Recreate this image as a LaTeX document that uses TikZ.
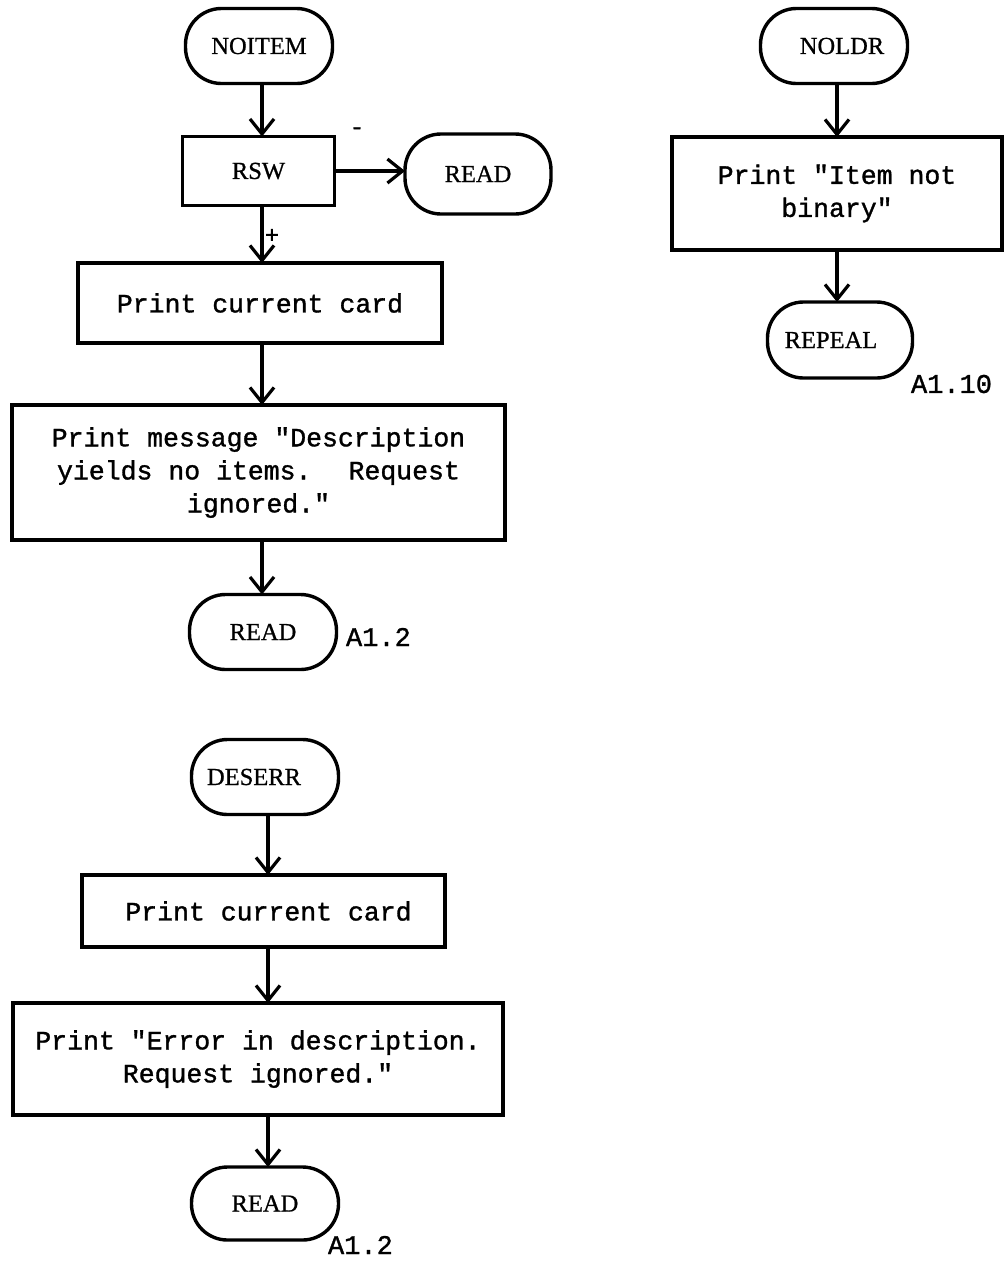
\documentclass[tikz,border=0pt]{standalone}
\usepackage{fontspec}
\setmainfont{Liberation Serif}
\setmonofont{Liberation Mono}
\newfontfamily\typer{Liberation Mono}[FakeBold=1.2]
\newfontfamily\caps{Liberation Serif}[FakeBold=0.8]
\usetikzlibrary{arrows.meta}
\begin{document}
\begin{tikzpicture}[x=1pt,y=-1pt,
  every node/.style={inner sep=0pt, outer sep=0pt},
  term/.style={draw, line width=3.4pt, rounded corners=36pt,
    minimum width=147pt, minimum height=75pt,
    font=\caps\fontsize{24.5}{30}\selectfont},
  proc/.style={draw, line width=3.2pt, align=center,
    font=\typer\fontsize{26.5}{33}\selectfont},
  flow/.style={line width=3.2pt,
    -{Straight Barb[length=15pt,width=24pt,line width=3.2pt]}},
  tag/.style={font=\typer\fontsize{27}{30}\selectfont},
  sign/.style={font=\typer\fontsize{24}{28}\selectfont}
]
\useasboundingbox[fill=white] (0,0) rectangle (1005,1262);

% column lines for the vertical connectors
\coordinate (colA) at (262,0);
\coordinate (colB) at (268,0);
\coordinate (colC) at (837,0);

% ---- NOITEM routine ----
\node[term] (noitem) at (259,46) {NOITEM};
\node[proc, minimum width=152pt, minimum height=69pt,
      font=\caps\fontsize{24.5}{30}\selectfont] (rsw) at (258.5,171) {RSW};
\node[term, minimum height=80pt, minimum width=146pt] (read1) at (478,174) {READ};
\node[proc, minimum width=364pt, minimum height=80pt] (card1) at (260,303)
  {Print current card};
\node[proc, minimum width=493pt, minimum height=135pt] (msg1) at (258.5,472.5)
  {Print message "Description\\yields no items.~ Request\\ignored."};
\node[term] (read2) at (263,632) {READ};
\node[tag, anchor=west] (ref1) at (346,637) {A1.2};

\node[sign] (minus) at (357,131) {-};
\node[sign] (plus) at (272,236) {+};

\draw[flow] (noitem.south -| colA) -- (rsw.north -| colA);
\draw[flow] (rsw.east) -- (rsw.east -| read1.west);
\draw[flow] (rsw.south -| colA) -- (card1.north -| colA);
\draw[flow] (card1.south -| colA) -- (msg1.north -| colA);
\draw[flow] (msg1.south -| colA) -- (read2.north -| colA);

% ---- NOLDR routine ----
\node[term] (noldr) at (834,46) {\hspace*{16pt}NOLDR};
\node[proc, minimum width=330pt, minimum height=113pt] (msg2) at (837,193.5)
  {Print "Item not\\binary"};
\node[term, minimum height=76pt, minimum width=145pt] (repeal) at (840,340)
  {\hspace*{-18pt}REPEAL};
\node[tag, anchor=west] (ref2) at (911,384) {A1.10};

\draw[flow] (noldr.south -| colC) -- (msg2.north -| colC);
\draw[flow] (msg2.south -| colC) -- (repeal.north -| colC);

% ---- DESERR routine ----
\node[term] (deserr) at (265,777) {\hspace*{-22pt}DESERR};
\node[proc, minimum width=363pt, minimum height=72pt] (card2) at (263.5,911)
  {\hspace*{10pt}Print current card};
\node[proc, minimum width=490pt, minimum height=112pt] (msg3) at (258,1059)
  {Print "Error in description.\\Request ignored."};
\node[term, minimum height=73pt] (read3) at (265,1203.5) {READ};
\node[tag, anchor=west] (ref3) at (328,1245) {A1.2};

\draw[flow] (deserr.south -| colB) -- (card2.north -| colB);
\draw[flow] (card2.south -| colB) -- (msg3.north -| colB);
\draw[flow] (msg3.south -| colB) -- (read3.north -| colB);
\end{tikzpicture}
\end{document}
